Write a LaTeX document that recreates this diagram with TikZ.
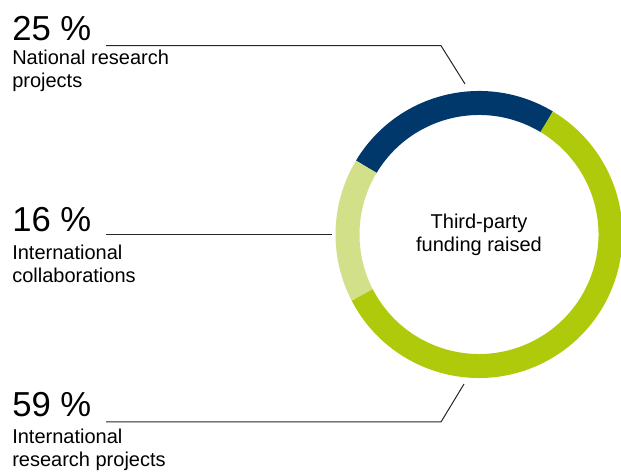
\documentclass[tikz,border=0pt]{standalone}
\usepackage{fontspec}
\setmainfont{Liberation Sans}
\usetikzlibrary{positioning}
\definecolor{fundnavy}{RGB}{0,56,108}
\definecolor{fundgreen}{RGB}{175,202,11}
\definecolor{fundlight}{RGB}{211,224,138}
\tikzset{
	pct node/.style={anchor=base west,inner sep=0pt,font=\fontsize{26}{30}\selectfont},
	label node/.style={anchor=base west,inner sep=0pt,align=left,font=\fontsize{15}{17.25}\selectfont},
	center text/.style={inner sep=0pt,align=center,font=\fontsize{15}{17.25}\selectfont},
	leader/.style={draw=black!85,line width=0.75pt},
	ring/.style={line width=18pt}
}

\begin{document}
\begin{tikzpicture}[x=0.75pt,y=0.75pt]
	\useasboundingbox (0,0) rectangle (621,474);
	% donut
	\coordinate (mid) at (479,239.5);
	\draw[ring,fundnavy] (mid) ++(59:131.5) arc[start angle=59,end angle=149,radius=131.5];
	\draw[ring,fundlight] (mid) ++(149:131.5) arc[start angle=149,end angle=207.4,radius=131.5];
	\draw[ring,fundgreen] (mid) ++(207.4:131.5) arc[start angle=207.4,end angle=419,radius=131.5];
	\node[center text] (title) at (mid) {Third-party\\funding raised};
	% shares
	\node[pct node] (p25) at (12,433) {25 \%};
	\node[label node] (l25) at (12,386) {National research\\projects};
	\node[pct node] (p16) at (12,242.3) {16 \%};
	\node[label node] (l16) at (12,191.3) {International\\collaborations};
	\node[pct node] (p59) at (12,57.3) {59 \%};
	\node[label node] (l59) at (12,7) {International\\research projects};
	% leaders
	\coordinate (a25) at (106,428.3);
	\coordinate (b25) at (441,428.3);
	\coordinate (c25) at (465,390);
	\coordinate (a16) at (106,239);
	\coordinate (b16) at (332,239);
	\coordinate (a59) at (106,52);
	\coordinate (b59) at (441,52);
	\coordinate (c59) at (464,90);
	\draw[leader] (a25) -- (b25) -- (c25);
	\draw[leader] (a16) -- (b16);
	\draw[leader] (a59) -- (b59) -- (c59);
\end{tikzpicture}
\end{document}
